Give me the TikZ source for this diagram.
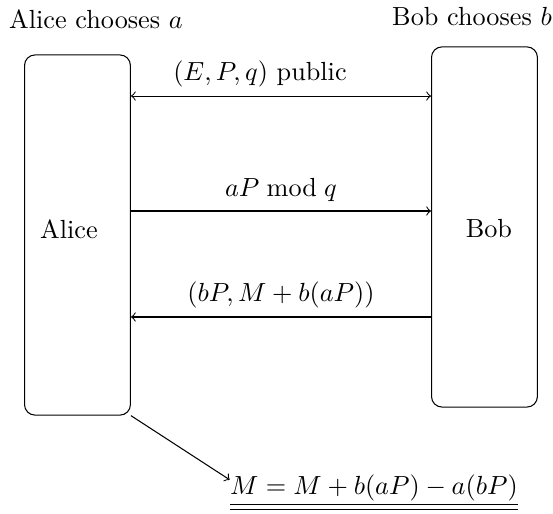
\documentclass[tikz,border=0pt]{standalone}
\usepackage{amsmath}
\usetikzlibrary{positioning,calc}
\begin{document}
\begin{tikzpicture}[>=to, party/.style={draw, rounded corners=4pt, minimum width=1.42cm, minimum height=4.83cm, inner sep=0pt}]
        \useasboundingbox (0,0) rectangle (7.416,6.893);
        \node[party] (alice) at (1.039,3.741) {};
        \node[party] (bob) at (6.497,3.849) {};
        \node (alicename) at (0.925,3.822) {Alice};
        \node (bobname) at (6.557,3.822) {Bob};
        \node[anchor=base] (achoose) at (1.287,6.504) {Alice chooses $a$};
        \node[anchor=base] (bchoose) at (6.330,6.557) {Bob chooses $b$};
        \coordinate (m1) at (3.7,5.605);
        \coordinate (m2) at (3.7,4.063);
        \coordinate (m3) at (3.7,2.642);
        \draw[<->] (alice.east |- m1) -- node[above, pos=0.43] {$(E,P,q)$ public} (bob.west |- m1);
        \draw[->] (alice.east |- m2) -- node[above] {$aP \bmod q$} (bob.west |- m2);
        \draw[->] (bob.west |- m3) -- node[above] {$(bP, M+b(aP))$} (alice.east |- m3);
        \node[anchor=base, inner sep=0pt] (result) at (5.015,0.268) {$\underline{\underline{M = M + b(aP) - a(bP)}}$};
        \draw[->] (alice.south east) -- ([yshift=-0.08cm]result.north west);
    \end{tikzpicture}
\end{document}
